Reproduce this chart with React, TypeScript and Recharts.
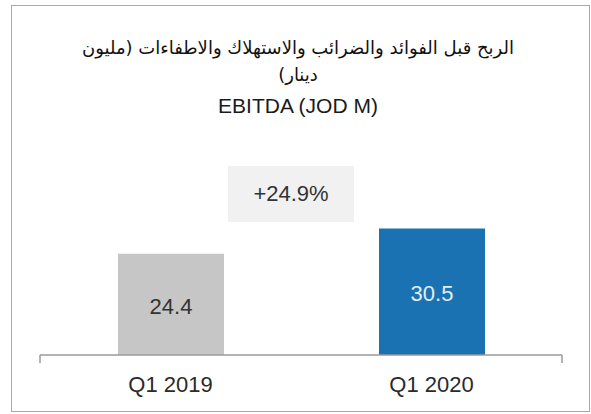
import React from 'react';
import { BarChart, Bar, XAxis, YAxis, Cell, LabelList } from 'recharts';

const categories = ['Q1 2019', 'Q1 2020'];
const ebitdaValues = [24.4, 30.5];
const boundaryTicks = [0, 1, 2];
const growthText = '+24.9%';
const titleArabicLine1 = 'الربح قبل الفوائد والضرائب والاستهلاك والاطفاءات (مليون';
const titleArabicLine2 = 'دينار)';
const titleEnglish = 'EBITDA (JOD M)';

const data = categories.map((c, i) => ({ category: c, value: ebitdaValues[i] }));

const BAR_FILLS = ['#c6c6c6', '#1b72b3'];
const LABEL_FILLS = ['#333333', '#e4ecf4'];
const FONT = '"Liberation Sans", Arial, sans-serif';
const AR_FONT = '"DejaVu Sans", sans-serif';

const renderValueLabel = (props: any) => {
  const { x, y, width, height, value, index } = props;
  return (
    <text
      x={Number(x) + Number(width) / 2}
      y={Number(y) + Number(height) / 2 + 2}
      textAnchor="middle"
      dominantBaseline="central"
      fontSize={22}
      fill={LABEL_FILLS[index]}
      fontFamily={FONT}
    >
      {value}
    </text>
  );
};

const arabicStyle: React.CSSProperties = {
  position: 'absolute', left: 0, width: 596, height: 28, lineHeight: '28px',
  textAlign: 'center', direction: 'rtl', fontFamily: AR_FONT, fontSize: 18,
  color: '#111', whiteSpace: 'nowrap',
};

export default function App() {
  return (
    <div style={{ position: 'absolute', left: 0, top: 0, width: 591, height: 414, background: '#fff', overflow: 'hidden' }}>
      <div
        style={{
          position: 'absolute', left: 11, top: 5, width: 579, height: 407,
          boxSizing: 'border-box', border: '1px solid #a8a8a8',
        }}
      />
      <div style={{ ...arabicStyle, top: 34 }}>{titleArabicLine1}</div>
      <div style={{ ...arabicStyle, top: 61 }}>{titleArabicLine2}</div>
      <div style={{ position: 'absolute', left: 0, top: 92, width: 596, height: 28, lineHeight: '28px', textAlign: 'center', fontFamily: FONT, fontSize: 21, color: '#1a1a1a' }}>
        {titleEnglish}
      </div>
      <div style={{ position: 'absolute', left: 228, top: 166, width: 126, height: 56, background: '#f1f1f1', lineHeight: '56px', textAlign: 'center', fontFamily: FONT, fontSize: 22, color: '#333' }}>
        {growthText}
      </div>
      <div style={{ position: 'absolute', left: 0, top: 0 }}>
        <BarChart
          width={591}
          height={414}
          data={data}
          margin={{ top: 189, right: 29, bottom: 28, left: 40 }}
          barSize={106}
        >
          <XAxis
            xAxisId="b"
            type="number"
            domain={[0, 2]}
            ticks={boundaryTicks}
            tickFormatter={() => ''}
            tickSize={8}
            height={1}
            stroke="#9a9a9a"
            strokeWidth={1.5}
            allowDataOverflow
          />
          <XAxis
            xAxisId="c"
            dataKey="category"
            axisLine={false}
            tickLine={false}
            tickSize={0}
            tickMargin={20}
            height={30}
            interval={0}
            tick={{ fontSize: 22, fill: '#2a2a2a', fontFamily: FONT }}
          />
          <YAxis domain={[0, 40]} hide />
          <Bar xAxisId="c" dataKey="value" isAnimationActive={false}>
            {data.map((d, i) => (
              <Cell key={d.category} fill={BAR_FILLS[i]} />
            ))}
            <LabelList dataKey="value" content={renderValueLabel} />
          </Bar>
        </BarChart>
      </div>
    </div>
  );
}
